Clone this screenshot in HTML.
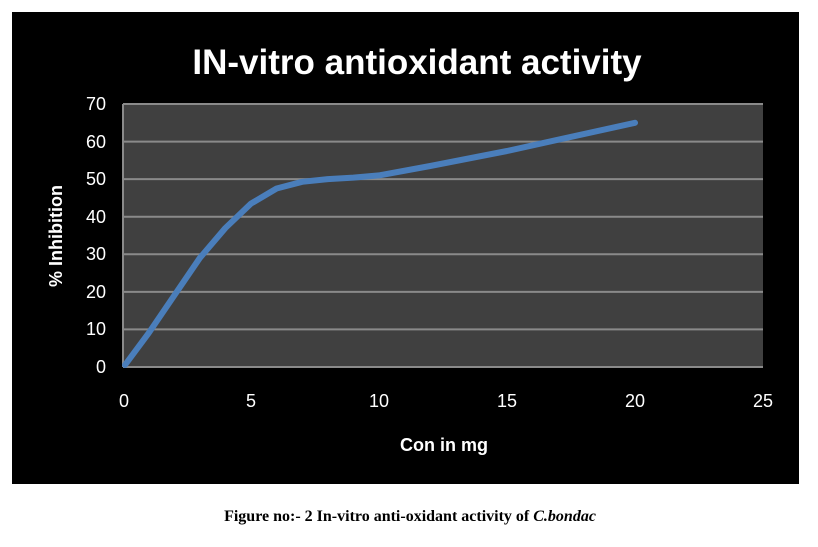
<!DOCTYPE html>
<html><head><style>
body{margin:0;background:#fff;width:818px;height:542px;overflow:hidden}
</style></head><body>
<svg width="818" height="542" xmlns="http://www.w3.org/2000/svg" font-family="'Liberation Sans', sans-serif">
<rect x="12" y="12" width="787" height="472" fill="#000"/>
<text x="417" y="74" fill="#fff" font-size="35" font-weight="bold" text-anchor="middle">IN-vitro antioxidant activity</text>
<rect x="123" y="104" width="640" height="263" fill="#404040"/>
<g stroke="#8a8a8a" stroke-width="2">
<line x1="123" y1="104" x2="763" y2="104"/>
<line x1="123" y1="141.6" x2="763" y2="141.6"/>
<line x1="123" y1="179.1" x2="763" y2="179.1"/>
<line x1="123" y1="216.7" x2="763" y2="216.7"/>
<line x1="123" y1="254.3" x2="763" y2="254.3"/>
<line x1="123" y1="291.9" x2="763" y2="291.9"/>
<line x1="123" y1="329.4" x2="763" y2="329.4"/>
<line x1="123" y1="367" x2="763" y2="367"/>
<line x1="123" y1="104" x2="123" y2="367"/>
</g>
<g fill="#fff" font-size="18" text-anchor="end">
<text x="106" y="110">70</text><text x="106" y="148">60</text><text x="106" y="185">50</text>
<text x="106" y="223">40</text><text x="106" y="260">30</text><text x="106" y="298">20</text>
<text x="106" y="335">10</text><text x="106" y="373">0</text>
</g>
<g fill="#fff" font-size="18" text-anchor="middle">
<text x="124" y="407">0</text><text x="251" y="407">5</text><text x="379" y="407">10</text>
<text x="507" y="407">15</text><text x="635" y="407">20</text><text x="763" y="407">25</text>
</g>
<text x="444" y="451" fill="#fff" font-size="18" font-weight="bold" text-anchor="middle">Con in mg</text>
<text transform="translate(62,236) rotate(-90)" fill="#fff" font-size="18" font-weight="bold" text-anchor="middle">% Inhibition</text>
<polyline fill="none" stroke="#4a7ebb" stroke-width="6" stroke-linejoin="round" stroke-linecap="round"
points="125,365 148.6,333.2 174.2,295.6 199.8,258 225.4,228 251,203.6 276.6,188.5 302.2,181.8 327.8,179.1 353.4,177.6 379,175.4 430.2,166 507,151 558.2,139.7 635,122.8"/>
<text x="410" y="521" font-family="'Liberation Serif', serif" font-size="16" font-weight="bold" text-anchor="middle">Figure no:- 2 In-vitro anti-oxidant activity of <tspan font-style="italic">C.bondac</tspan></text>
</svg>
</body></html>
